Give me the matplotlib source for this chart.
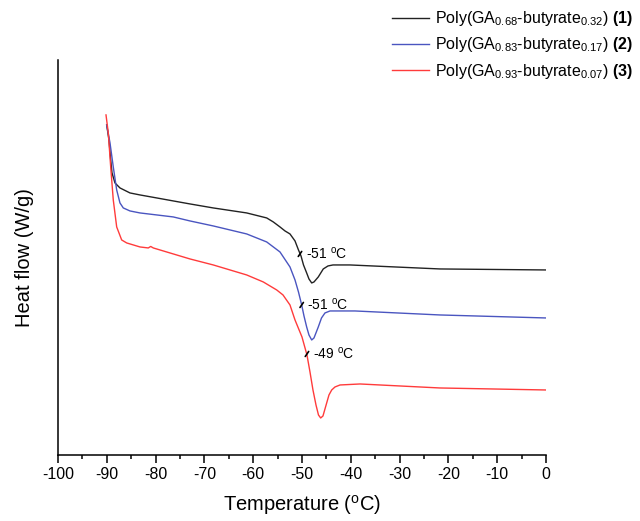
import matplotlib
matplotlib.use("Agg")
import matplotlib.pyplot as plt
from matplotlib.ticker import MultipleLocator

plt.rcParams['font.family'] = ['Liberation Sans', 'DejaVu Sans']
plt.rcParams['mathtext.fontset'] = 'custom'
plt.rcParams['mathtext.rm'] = 'Liberation Sans'
plt.rcParams['mathtext.bf'] = 'Liberation Sans:bold'
plt.rcParams['mathtext.it'] = 'Liberation Sans:italic'
plt.rcParams['axes.unicode_minus'] = False

# DSC traces (temperature in degC, heat flow in arbitrary units, offset per curve)
t1 = [-90.02, -89.55, -89.20, -88.93, -88.32, -87.30, -85.25, -83.20, -79.77, -76.37,
      -72.95, -68.18, -61.33, -57.23, -55.88, -54.51, -53.48, -52.46, -51.43, -50.72,
      -50.20, -49.69, -49.04, -48.57, -48.01, -47.54, -46.66, -45.64, -44.67, -43.65,
      -40.16, -21.72, 0.0]
hf1 = [3.30, 3.15, 2.95, 2.82, 2.72, 2.67, 2.62, 2.60, 2.57, 2.54,
       2.51, 2.47, 2.42, 2.37, 2.33, 2.28, 2.24, 2.21, 2.14, 2.05,
       1.99, 1.90, 1.82, 1.76, 1.72, 1.73, 1.78, 1.86, 1.89, 1.90,
       1.90, 1.86, 1.85]

t2 = [-90.02, -89.34, -88.67, -87.97, -87.30, -86.62, -85.25, -83.20, -79.77, -76.37,
      -72.95, -68.18, -61.33, -57.23, -54.51, -52.46, -51.43, -50.72, -50.06, -49.59,
      -49.04, -48.57, -48.01, -47.54, -46.66, -46.00, -45.29, -44.26, -43.24, -39.14,
      -21.72, 0.0]
hf2 = [3.30, 3.12, 2.88, 2.65, 2.52, 2.47, 2.44, 2.42, 2.40, 2.38,
       2.34, 2.29, 2.21, 2.13, 2.03, 1.88, 1.75, 1.63, 1.50, 1.39,
       1.28, 1.20, 1.15, 1.17, 1.28, 1.37, 1.42, 1.44, 1.44, 1.44,
       1.40, 1.37]

t3 = [-90.16, -89.69, -89.20, -88.67, -87.97, -86.95, -85.92, -83.20, -81.50, -81.00,
      -80.47, -76.37, -72.95, -68.18, -61.33, -57.93, -55.18, -53.89, -52.46, -51.43,
      -50.00, -48.98, -48.36, -47.75, -47.13, -46.62, -46.17, -45.70, -44.94, -44.47,
      -43.91, -43.24, -42.21, -38.11, -21.72, 0.0]
hf3 = [3.40, 3.22, 2.88, 2.55, 2.28, 2.15, 2.12, 2.08, 2.07, 2.085,
       2.07, 2.01, 1.96, 1.90, 1.80, 1.73, 1.65, 1.60, 1.50, 1.35,
       1.18, 1.00, 0.83, 0.65, 0.50, 0.40, 0.37, 0.39, 0.52, 0.60,
       0.65, 0.68, 0.70, 0.71, 0.67, 0.65]

labels = [r'Poly(GA$_{\rm 0.68}$-butyrate$_{\rm 0.32}$) $\bf{(1)}$',
          r'Poly(GA$_{\rm 0.83}$-butyrate$_{\rm 0.17}$) $\bf{(2)}$',
          r'Poly(GA$_{\rm 0.93}$-butyrate$_{\rm 0.07}$) $\bf{(3)}$']
colors = ['#222222', '#4a55c0', '#ff3b3b']

# glass transition marks
tg_t = [-50.41, -50.06, -48.98]
tg_hf = [2.01, 1.50, 1.01]
tg_labels = [r'-51 $^{\rm o}$C', r'-51 $^{\rm o}$C', r'-49 $^{\rm o}$C']

fig = plt.figure(figsize=(6.4, 5.21), dpi=100)
ax = fig.add_axes([0.0906, 0.1267, 0.7625, 0.7583])

for t, hf, lab, c in zip([t1, t2, t3], [hf1, hf2, hf3], labels, colors):
    ax.plot(t, hf, color=c, lw=1.0, label=lab, solid_joinstyle='round')

for t, hf, lab in zip(tg_t, tg_hf, tg_labels):
    ax.annotate(lab, xy=(t, hf), xytext=(4, 0), textcoords='offset points',
                fontsize=10, va='center', ha='left')
    ax.annotate('', xy=(t - 0.35, hf - 0.025), xytext=(t + 0.35, hf + 0.025),
                arrowprops=dict(arrowstyle='-', color='black', lw=1.2,
                                shrinkA=0, shrinkB=0))

ax.set_xlim(-100, 0)
ax.set_ylim(0, 3.95)
ax.xaxis.set_major_locator(MultipleLocator(10))
ax.xaxis.set_minor_locator(MultipleLocator(5))
ax.set_yticks([])
for s in ['top', 'right']:
    ax.spines[s].set_visible(False)
for s in ['left', 'bottom']:
    ax.spines[s].set_linewidth(1.1)
ax.tick_params(axis='x', which='major', direction='out', length=6, width=1.1,
               labelsize=11.5, pad=2.5)
ax.tick_params(axis='x', which='minor', direction='out', length=3, width=1.1)

ax.set_xlabel(r'Temperature ($^{\rm o}$C)', fontsize=14.5, labelpad=8)
ax.set_ylabel('Heat flow (W/g)', fontsize=14.5, labelpad=17)

ax.legend(loc='upper right', bbox_to_anchor=(1.012, 1.01), bbox_transform=fig.transFigure,
          frameon=False, fontsize=11.5, handlelength=2.3, handletextpad=0.4,
          labelspacing=0.45)

fig.savefig('out.png', dpi=100)
